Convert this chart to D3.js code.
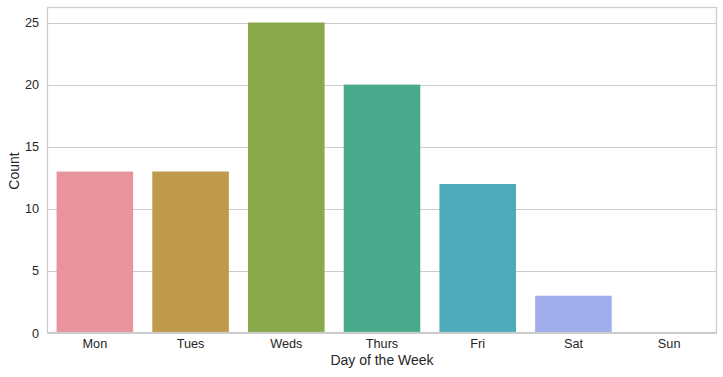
<!DOCTYPE html>
<html>
<head>
<meta charset="utf-8">
<script src="https://cdn.jsdelivr.net/npm/d3@7"></script>
<style>
  body { margin: 0; background: #fff; }
  text { font-family: "Liberation Sans", Arial, sans-serif; fill: #262626; }
</style>
</head>
<body>
<div id="chart"></div>
<script>
// data
var days = ["Mon", "Tues", "Weds", "Thurs", "Fri", "Sat", "Sun"];
var counts = [13, 13, 25, 20, 12, 3, 0];
var colors = ["#e8949f", "#c09a4b", "#88a84a", "#4aab8c", "#4eabba", "#a1aeed", "#d896e8"];
var yTicks = [0, 5, 10, 15, 20, 25];

var W = 723, H = 377;
var margin = {top: 7, right: 6, bottom: 44, left: 47};
var width = W - margin.left - margin.right,
    height = H - margin.top - margin.bottom;

var svg = d3.select("#chart").append("svg")
    .attr("width", W)
    .attr("height", H)
  .append("g")
    .attr("transform", "translate(" + margin.left + "," + margin.top + ")");

var x = d3.scaleBand()
    .domain(days)
    .range([0, width])
    .paddingInner(0.2)
    .paddingOuter(0.1);

var y = d3.scaleLinear()
    .domain([0, 26.25])
    .range([height, 0]);

// grid lines
svg.append("g")
    .selectAll("line")
    .data(yTicks)
    .enter().append("line")
    .attr("x1", 0)
    .attr("x2", width)
    .attr("y1", function(d) { return Math.round(y(d)) + 0.5; })
    .attr("y2", function(d) { return Math.round(y(d)) + 0.5; })
    .attr("stroke", "#cccccc")
    .attr("stroke-width", 1);

// bars
svg.selectAll(".bar")
    .data(counts)
    .enter().append("rect")
    .attr("class", "bar")
    .attr("x", function(d, i) { return x(days[i]); })
    .attr("width", x.bandwidth())
    .attr("y", function(d) { return y(d); })
    .attr("height", function(d) { return height - y(d); })
    .attr("fill", function(d, i) { return colors[i]; });

// frame
svg.append("rect")
    .attr("x", 0.5)
    .attr("y", 0.5)
    .attr("width", width - 1)
    .attr("height", height - 1)
    .attr("fill", "none")
    .attr("stroke", "#cccccc")
    .attr("stroke-width", 1.25);

// y axis labels
svg.append("g")
    .call(d3.axisLeft(y).tickValues(yTicks).tickSize(0).tickPadding(8))
    .call(function(g) { g.select(".domain").remove(); })
    .selectAll("text")
    .style("font-size", "12.7px")
    .style("font-family", "'Liberation Sans', Arial, sans-serif")
    .attr("fill", "#262626");

// x axis labels
svg.append("g")
    .attr("transform", "translate(0," + height + ")")
    .call(d3.axisBottom(x).tickSize(0).tickPadding(6))
    .call(function(g) { g.select(".domain").remove(); })
    .selectAll("text")
    .style("font-size", "12.7px")
    .style("font-family", "'Liberation Sans', Arial, sans-serif")
    .attr("fill", "#262626");

// axis titles
svg.append("text")
    .attr("x", width / 2)
    .attr("y", height + 32)
    .attr("text-anchor", "middle")
    .style("font-size", "14px")
    .text("Day of the Week");

svg.append("text")
    .attr("transform", "translate(" + (-28.5) + "," + (height / 2 + 1) + ") rotate(-90)")
    .attr("text-anchor", "middle")
    .style("font-size", "14px")
    .text("Count");
</script>
</body>
</html>
